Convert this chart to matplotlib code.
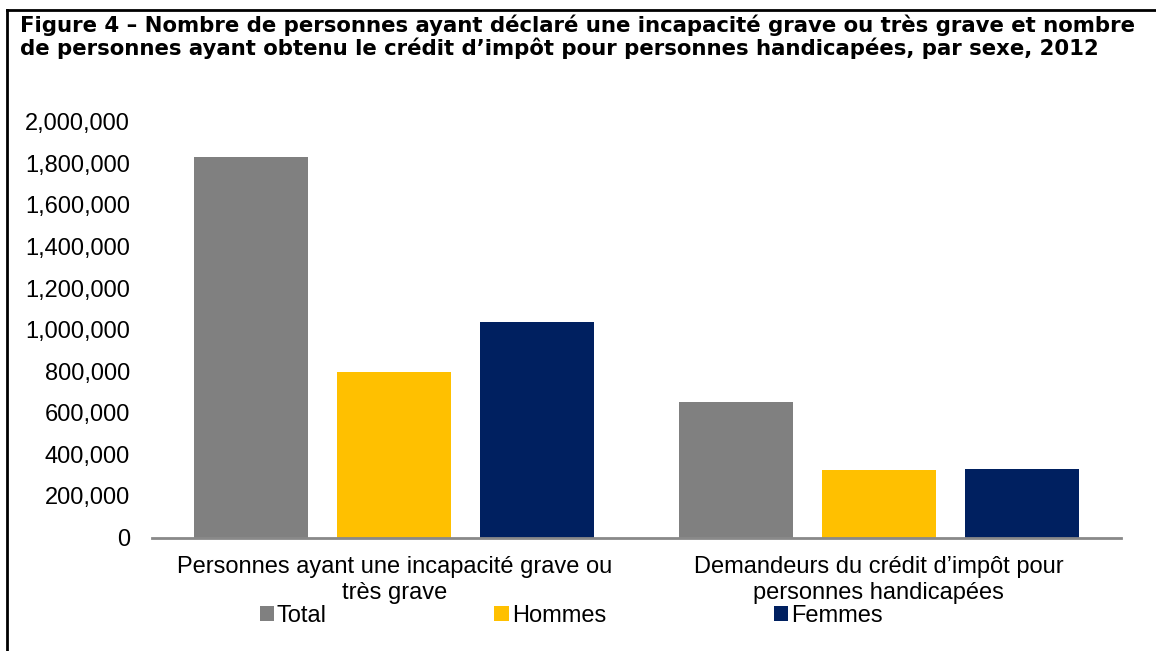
import matplotlib
matplotlib.use("Agg")
import matplotlib.pyplot as plt
from matplotlib.patches import Patch
from matplotlib.lines import Line2D
from matplotlib.ticker import FuncFormatter
import numpy as np

categories = ["Personnes ayant une incapacité grave ou\ntrès grave",
              "Demandeurs du crédit d\u2019impôt pour\npersonnes handicapées"]
series_names = ["Total", "Hommes", "Femmes"]
total = [1832000, 652000]
hommes = [795000, 325000]
femmes = [1037000, 328000]
colors = ["#808080", "#FFC000", "#002060"]
title = ("Figure 4 \u2013 Nombre de personnes ayant déclaré une incapacité grave ou très grave et nombre\n"
         "de personnes ayant obtenu le crédit d\u2019impôt pour personnes handicapées, par sexe, 2012")

W, H = 1156, 651
fig = plt.figure(figsize=(W / 100, H / 100), dpi=100)
fig.patch.set_facecolor("white")

# border (left and top)
fig.add_artist(Line2D([7 / W, 7 / W], [0, 1 - 10 / H], color="black", lw=2, transform=fig.transFigure))
fig.add_artist(Line2D([7 / W, 1], [1 - 10 / H, 1 - 10 / H], color="black", lw=2, transform=fig.transFigure))

fig.text(20 / W, 1 - 14 / H, title, ha="left", va="top", fontsize=15.3,
         fontweight="bold", family="DejaVu Sans", linespacing=1.1)

left, right = 152 / W, 1121 / W
bottom, top = (H - 537.5) / H, (H - 121.7) / H
ax = fig.add_axes([left, bottom, right - left, top - bottom])

x = np.arange(len(categories))
offset = 0.2952
width = 0.2353
for i, (vals, name, c) in enumerate(zip([total, hommes, femmes], series_names, colors)):
    ax.bar(x + (i - 1) * offset, vals, width, color=c, label=name, zorder=2)

ax.set_xlim(-0.5, 1.5)
ax.set_ylim(0, 2000000)
ax.set_yticks(np.arange(0, 2000001, 200000))
ax.yaxis.set_major_formatter(FuncFormatter(lambda v, p: f"{int(v):,}"))
ax.set_xticks(x)
ax.set_xticklabels(categories, linespacing=1.25)

font = "Liberation Sans"
for lab in ax.get_yticklabels() + ax.get_xticklabels():
    lab.set_family(font)
    lab.set_fontsize(17)
    lab.set_color("black")
ax.tick_params(axis="y", length=0, pad=16)
ax.tick_params(axis="x", length=0, pad=13)

for s in ["top", "right", "left"]:
    ax.spines[s].set_visible(False)
ax.spines["bottom"].set_color("#898989")
ax.spines["bottom"].set_linewidth(2)
ax.spines["bottom"].set_zorder(3)

handles = [Patch(facecolor=c, edgecolor="none") for c in colors]
fig.legend(handles, series_names, loc="center", bbox_to_anchor=(571 / W, (H - 615.5) / H),
           ncol=3, frameon=False, prop={"family": font, "size": 17},
           handlelength=0.6, handleheight=0.6, handletextpad=0.13,
           columnspacing=7.1, borderpad=0, borderaxespad=0)

fig.savefig("out.png", dpi=100, facecolor="white")
